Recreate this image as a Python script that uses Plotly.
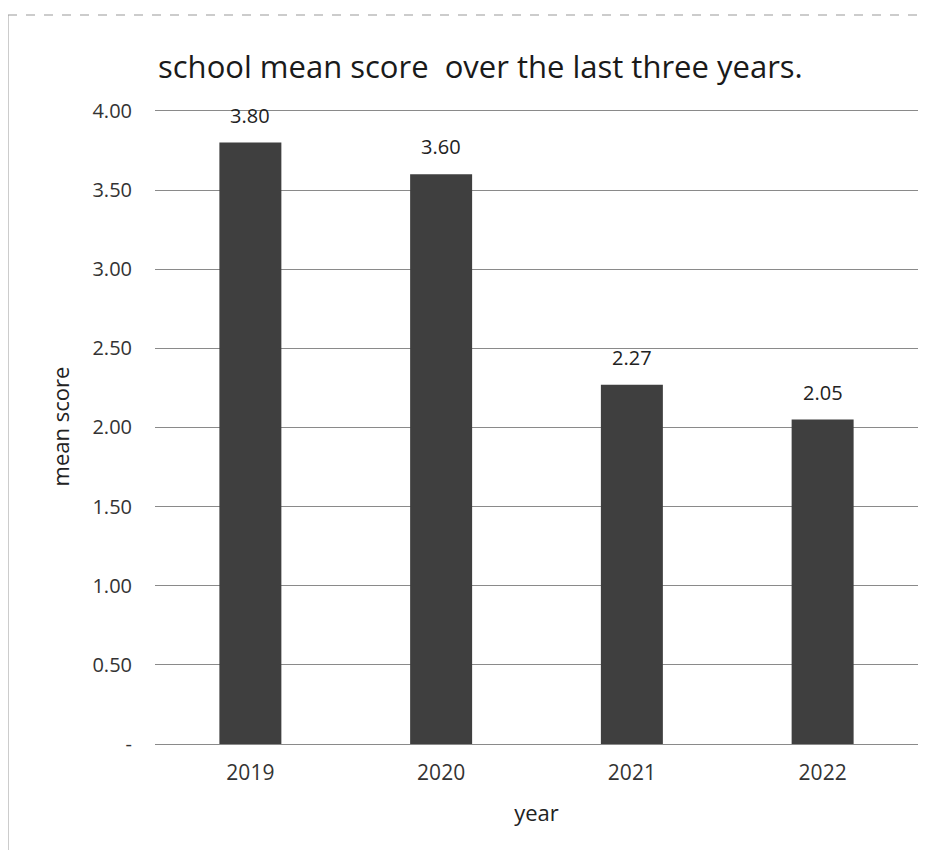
import plotly.graph_objects as go

years = ["2019", "2020", "2021", "2022"]
mean_scores = [3.80, 3.60, 2.27, 2.05]
score_labels = ["3.80", "3.60", "2.27", "2.05"]
y_tick_vals = [0, 0.5, 1.0, 1.5, 2.0, 2.5, 3.0, 3.5, 4.0]
y_tick_text = ["-", "0.50", "1.00", "1.50", "2.00", "2.50", "3.00", "3.50", "4.00"]

FONT = "Open Sans, Lato, sans-serif"
ML, MR, MT, MB = 147, 26, 101, 116
PW = 936 - ML - MR
PH = 852 - MT - MB

fig = go.Figure(go.Bar(
    x=years, y=mean_scores,
    marker=dict(color="#3f3f3f", line=dict(width=0)),
))

# value labels above bars (category index positions on the category axis)
for i, (v, lab) in enumerate(zip(mean_scores, score_labels)):
    fig.add_annotation(x=i, y=v, xref="x", yref="y", text=lab, showarrow=False,
                       yanchor="bottom", yshift=12,
                       font=dict(family=FONT, size=20, color="#222222"))

fig.update_layout(
    width=936, height=852,
    paper_bgcolor="white", plot_bgcolor="white",
    margin=dict(l=ML, r=MR, t=MT, b=MB),
    bargap=0.675,
    showlegend=False,
    title=dict(text="school mean score  over the last three years.",
               x=150/936, xanchor="left", xref="container",
               y=1 - 59/852, yanchor="middle",
               font=dict(family=FONT, size=31, color="#1a1a1a")),
    font=dict(family=FONT, size=20, color="#333333"),
)

fig.update_yaxes(
    range=[0, 4.012], tickvals=y_tick_vals, ticktext=y_tick_text,
    showgrid=True, gridcolor="#8a8a8a", gridwidth=1,
    zeroline=True, zerolinecolor="#8a8a8a", zerolinewidth=1,
    showline=False, ticks="", ticklabelstandoff=22,
    tickfont=dict(family=FONT, size=20, color="#333333"),
    title=dict(text="mean score", standoff=16,
               font=dict(family=FONT, size=22, color="#222222")),
)
fig.update_xaxes(
    type="category", range=[-0.5, len(years) - 0.5],
    showline=False, ticks="", showgrid=False, ticklabelstandoff=14,
    tickfont=dict(family=FONT, size=21, color="#333333"),
    title=dict(text="year", standoff=20,
               font=dict(family=FONT, size=22, color="#222222")),
)

# outer chart frame (left and top edges)
fx0 = -ML / PW
fy1 = 1 + (MT - 7) / PH
fig.add_shape(type="line", xref="paper", yref="paper",
              x0=fx0, x1=(917 - ML) / PW, y0=fy1, y1=fy1,
              line=dict(color="#999999", width=1, dash="dash"))
fig.add_shape(type="line", xref="paper", yref="paper",
              x0=fx0, x1=fx0, y0=fy1, y1=-(MB - 10) / PH,
              line=dict(color="#999999", width=1))

fig.write_html("out.html")
